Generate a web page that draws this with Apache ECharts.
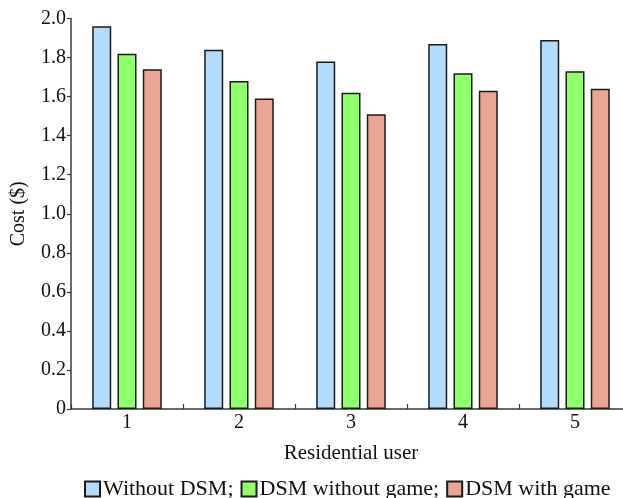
<!DOCTYPE html>
<html>
<head>
<meta charset="utf-8">
<script src="https://cdn.jsdelivr.net/npm/echarts@6/dist/echarts.min.js"></script>
<style>
  html, body { margin: 0; padding: 0; background: #fff; }
  #chart { width: 623px; height: 498px; }
</style>
</head>
<body>
<div id="chart"></div>
<script>
// Residential users on the category axis
const users = ['1', '2', '3', '4', '5'];

// Cost per user in dollars for each scheme
const withoutDSM = [1.96, 1.84, 1.78, 1.87, 1.89];
const dsmWithoutGame = [1.82, 1.68, 1.62, 1.72, 1.73];
const dsmWithGame = [1.74, 1.59, 1.51, 1.63, 1.64];

// Y-axis range and step
const yMin = 0;
const yMax = 2.0;
const yStep = 0.2;

const seriesNames = ['Without DSM', 'DSM without game', 'DSM with game'];
const seriesColors = ['#B4DCFA', '#91FF6B', '#EBA597'];

const font = '"Liberation Serif", "Times New Roman", serif';
const axisColor = '#3a3a3a';
const textColor = '#111';

const chart = echarts.init(document.getElementById('chart'), null, { renderer: 'canvas' });

const seriesData = [withoutDSM, dsmWithoutGame, dsmWithGame];

chart.setOption({
  animation: false,
  backgroundColor: '#ffffff',
  grid: {
    left: 71, top: 18.5, width: 560, height: 390.5,
    containLabel: false, outerBoundsMode: 'none'
  },
  legend: {
    left: 84,
    top: 478,
    padding: 0,
    itemWidth: 15,
    itemHeight: 15,
    itemGap: 7,
    icon: 'rect',
    data: seriesNames,
    formatter: function (name) {
      return name === seriesNames[seriesNames.length - 1] ? name : name + ';';
    },
    textStyle: { fontFamily: font, fontSize: 22, color: textColor, padding: [0, 0, 0, -2] }
  },
  xAxis: {
    type: 'category',
    data: users,
    name: 'Residential user',
    nameLocation: 'middle',
    nameGap: 34,
    nameTextStyle: { fontFamily: font, fontSize: 21, color: textColor },
    axisLine: { lineStyle: { color: axisColor, width: 1.5 } },
    axisTick: { show: true, inside: true, length: 5, lineStyle: { color: axisColor, width: 1.2 } },
    axisLabel: { fontFamily: font, fontSize: 20, color: textColor, margin: 4 },
    splitLine: { show: false }
  },
  yAxis: {
    type: 'value',
    min: yMin,
    max: yMax,
    interval: yStep,
    name: 'Cost ($)',
    nameLocation: 'middle',
    nameGap: 42,
    nameTextStyle: { fontFamily: font, fontSize: 20, color: textColor },
    axisLine: { show: true, lineStyle: { color: axisColor, width: 1.5 } },
    axisTick: { show: true, length: 4, lineStyle: { color: axisColor, width: 1.2 } },
    axisLabel: {
      fontFamily: font, fontSize: 20, color: textColor, margin: 5,
      formatter: function (v) { return v === 0 ? '0' : v.toFixed(1); }
    },
    splitLine: { show: false }
  },
  series: seriesNames.map(function (name, i) {
    return {
      name: name,
      type: 'bar',
      data: seriesData[i],
      barWidth: 19,
      barGap: '33%',
      itemStyle: { color: seriesColors[i], borderColor: '#1a1a1a', borderWidth: 1.5 }
    };
  })
});
</script>
</body>
</html>
